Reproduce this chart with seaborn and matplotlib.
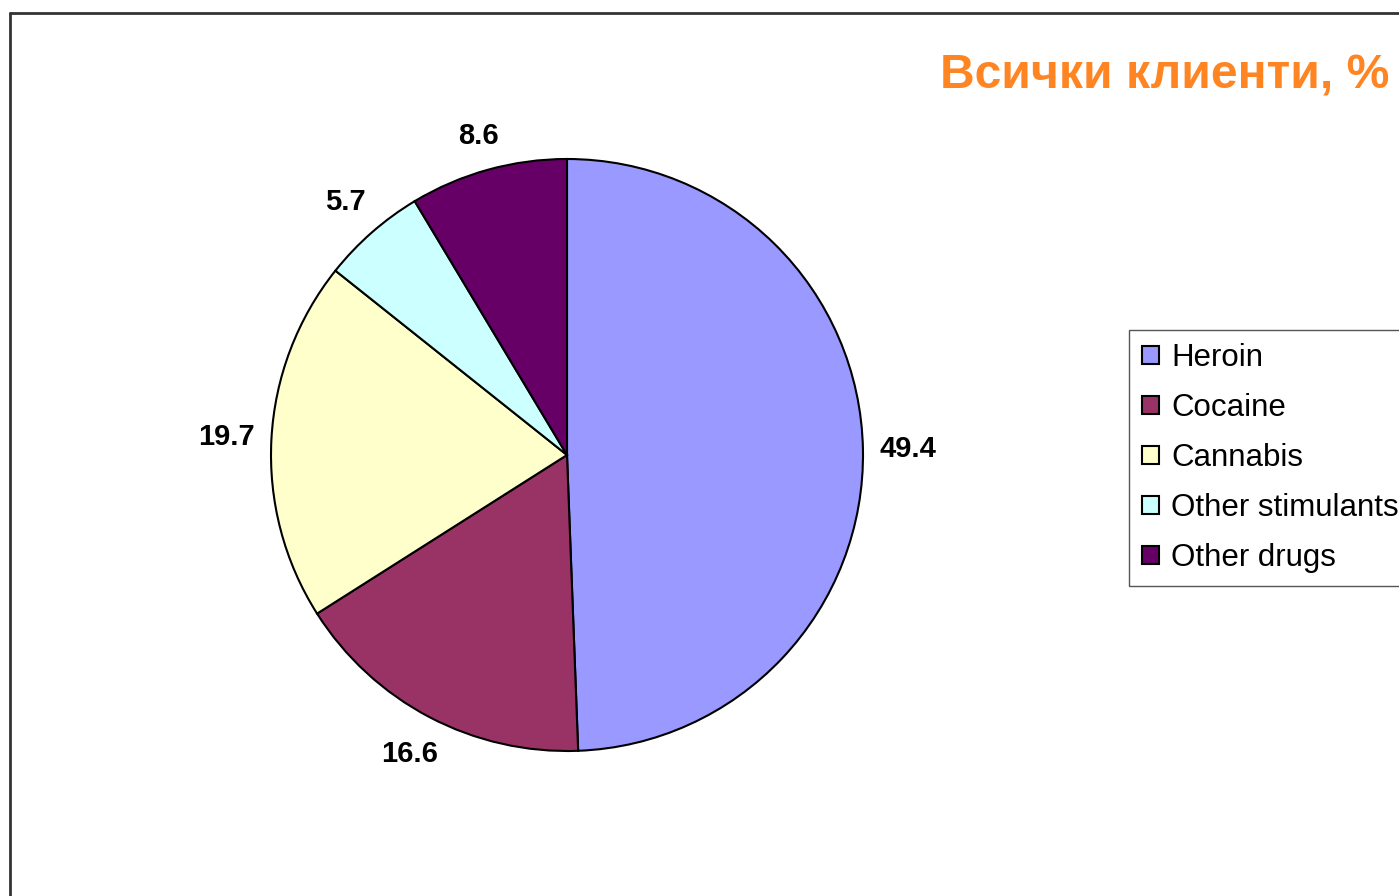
import matplotlib
matplotlib.use("Agg")
import numpy as np
import matplotlib.pyplot as plt
from matplotlib.lines import Line2D
import seaborn as sns

categories = ["Heroin", "Cocaine", "Cannabis", "Other stimulants", "Other drugs"]
values = [49.4, 16.6, 19.7, 5.7, 8.6]
colors = ["#9999FF", "#993366", "#FFFFCC", "#CCFFFF", "#660066"]
title = "Всички клиенти, %"

sns.set_theme(style="white")
plt.rcParams["font.family"] = ["Liberation Sans", "DejaVu Sans"]
plt.rcParams["text.color"] = "black"

W, H = 1399, 896
fig = plt.figure(figsize=(W / 100, H / 100), dpi=100)
fig.patch.set_facecolor("white")

cx, cy, r = 567, 455, 296
ax = fig.add_axes([(cx - r) / W, (H - cy - r) / H, 2 * r / W, 2 * r / H])

wedges, texts, autotexts = ax.pie(
    values,
    colors=colors,
    startangle=90,
    counterclock=False,
    autopct=lambda p: f"{p:.1f}",
    pctdistance=1.15,
    wedgeprops=dict(edgecolor="black", linewidth=1.5),
    textprops=dict(fontsize=21, fontweight="bold", color="black"),
)
ax.set_xlim(-1, 1)
ax.set_ylim(-1, 1)
ax.set_aspect("equal")
ax.axis("off")

# Place each value label so its box sits a fixed gap outside the rim
fig.canvas.draw()
renderer = fig.canvas.get_renderer()
gap = 16.0  # px
for w, t in zip(wedges, autotexts):
    ang = np.deg2rad((w.theta1 + w.theta2) / 2)
    bb = t.get_window_extent(renderer)
    half = abs(np.cos(ang)) * bb.width / 2 + abs(np.sin(ang)) * bb.height / 2
    d = (r + gap + half) / r
    t.set_position((d * np.cos(ang), d * np.sin(ang)))
    t.set_ha("center")
    t.set_va("center")

leg = fig.legend(
    wedges, categories,
    loc="upper left",
    bbox_to_anchor=(1129 / W, 1 - 330 / H),
    borderaxespad=0,
    fancybox=False,
    framealpha=1,
    edgecolor="#555555",
    fontsize=22.5,
    handlelength=0.55,
    handleheight=0.55,
    handletextpad=0.38,
    labelspacing=0.64,
    borderpad=0.42,
    labelcolor="black",
)
leg.get_frame().set_linewidth(1.0)
for h in leg.legend_handles:
    h.set_edgecolor("black")
    h.set_linewidth(1.5)

fig.text(940 / W, 1 - 88 / H, title, ha="left", va="baseline",
         fontsize=34.6, fontweight="bold", color="#FF8522")

# outer frame (left and top edges visible)
fig.add_artist(Line2D([10 / W, 10 / W], [0, 1 - 13 / H], transform=fig.transFigure,
                      color="#333333", linewidth=2))
fig.add_artist(Line2D([10 / W, 1], [1 - 13 / H, 1 - 13 / H], transform=fig.transFigure,
                      color="#333333", linewidth=2))

fig.savefig("out.png", dpi=100)
